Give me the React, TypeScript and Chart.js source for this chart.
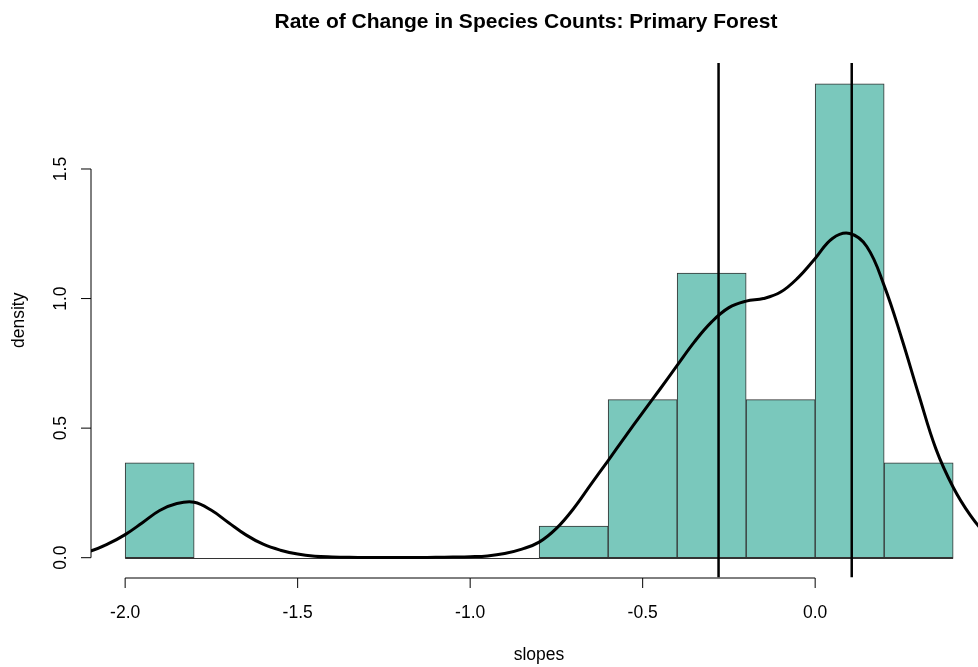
import React, { useEffect, useRef } from "react";
import { Chart, registerables } from "chart.js";

Chart.register(...registerables);

// Histogram bins (bin width 0.2) and density heights
const binCenters = [-1.9, -1.7, -1.5, -1.3, -1.1, -0.9, -0.7, -0.5, -0.3, -0.1, 0.1, 0.3];
const binDensity = [0.366, 0, 0, 0, 0, 0, 0.122, 0.61, 1.098, 0.61, 1.829, 0.366];
const binRange = [-2.0, 0.4];

// Kernel density curve (every 0.05)
const kdeX = [
  -2.15, -2.1, -2.05, -2.0, -1.95, -1.9, -1.85, -1.8, -1.75, -1.7, -1.65, -1.6, -1.55, -1.5,
  -1.45, -1.4, -1.35, -1.3, -1.25, -1.2, -1.15, -1.1, -1.05, -1.0, -0.95, -0.9, -0.85, -0.8,
  -0.75, -0.7, -0.65, -0.6, -0.55, -0.5, -0.45, -0.4, -0.35, -0.3, -0.25, -0.2, -0.15, -0.1,
  -0.05, 0.0, 0.05, 0.1, 0.15, 0.2, 0.25, 0.3, 0.35, 0.4, 0.45, 0.5,
];
const kdeY = [
  0.013, 0.026, 0.053, 0.089, 0.135, 0.182, 0.209, 0.214, 0.183, 0.135, 0.088, 0.052, 0.029, 0.014,
  0.006, 0.003, 0.0015, 0.001, 0.0008, 0.0008, 0.001, 0.0015, 0.0025, 0.004, 0.007, 0.016, 0.033, 0.06,
  0.113, 0.19, 0.283, 0.375, 0.468, 0.56, 0.65, 0.742, 0.833, 0.91, 0.965, 0.99, 1.0, 1.025,
  1.08, 1.155, 1.232, 1.251, 1.2, 1.05, 0.85, 0.63, 0.42, 0.272, 0.163, 0.08,
];

// Vertical reference lines
const refLines = [-0.28, 0.106];

// Axis ticks
const xTicks = [-2.0, -1.5, -1.0, -0.5, 0.0];
const yTicks = [0, 0.5, 1.0, 1.5];

const xLimits = [-2.099, 0.472];
const yLimits = [-0.0764, 1.909];

const titleText = "Rate of Change in Species Counts: Primary Forest";
const xTitle = "slopes";
const yTitle = "density";

const FONT = "'Liberation Sans', Arial, sans-serif";

const rAxesPlugin = {
  id: "rAxes",
  beforeDatasetsDraw(chart: any) {
    const ctx = chart.ctx;
    const x = chart.scales.x;
    const y = chart.scales.y;
    const y0 = y.getPixelForValue(0);
    ctx.save();
    ctx.strokeStyle = "#333";
    ctx.lineWidth = 1;
    ctx.beginPath();
    ctx.moveTo(x.getPixelForValue(binRange[0]), Math.round(y0) + 0.5);
    ctx.lineTo(x.getPixelForValue(binRange[1]), Math.round(y0) + 0.5);
    ctx.stroke();
    ctx.restore();
  },
  afterDraw(chart: any) {
    const ctx = chart.ctx;
    const area = chart.chartArea;
    const x = chart.scales.x;
    const y = chart.scales.y;
    ctx.save();
    ctx.strokeStyle = "#000";
    ctx.fillStyle = "#000";
    ctx.lineWidth = 1;

    // x axis
    const xa = 578;
    const xt = x.ticks.map((t: any) => t.value);
    ctx.beginPath();
    ctx.moveTo(x.getPixelForValue(xt[0]), xa);
    ctx.lineTo(x.getPixelForValue(xt[xt.length - 1]), xa);
    xt.forEach((v: number) => {
      const px = x.getPixelForValue(v);
      ctx.moveTo(px, xa);
      ctx.lineTo(px, xa + 10);
    });
    ctx.stroke();
    ctx.font = `17.5px ${FONT}`;
    ctx.textAlign = "center";
    ctx.textBaseline = "alphabetic";
    xt.forEach((v: number) => {
      ctx.fillText(v.toFixed(1), x.getPixelForValue(v), 618);
    });

    // y axis
    const ya = 91;
    const yt = y.ticks.map((t: any) => t.value);
    ctx.beginPath();
    ctx.moveTo(ya, y.getPixelForValue(yt[0]));
    ctx.lineTo(ya, y.getPixelForValue(yt[yt.length - 1]));
    yt.forEach((v: number) => {
      const py = y.getPixelForValue(v);
      ctx.moveTo(ya, py);
      ctx.lineTo(ya - 10, py);
    });
    ctx.stroke();
    yt.forEach((v: number) => {
      ctx.save();
      ctx.translate(66, y.getPixelForValue(v));
      ctx.rotate(-Math.PI / 2);
      ctx.fillText(v.toFixed(1), 0, 0);
      ctx.restore();
    });

    // axis titles
    ctx.fillText(xTitle, (area.left + 987) / 2, 659.5);
    ctx.save();
    ctx.translate(24, (area.top + area.bottom) / 2);
    ctx.rotate(-Math.PI / 2);
    ctx.fillText(yTitle, 0, 0);
    ctx.restore();

    // main title
    ctx.font = `bold 21px ${FONT}`;
    ctx.fillText(titleText, 526, 28);
    ctx.restore();
  },
};

export default function App() {
  const ref = useRef<HTMLCanvasElement | null>(null);

  useEffect(() => {
    if (!ref.current) return;
    const chart = new Chart(ref.current, {
      type: "bar",
      data: {
        datasets: [
          {
            type: "bar",
            data: binCenters.map((c, i) => ({ x: c, y: binDensity[i] })),
            backgroundColor: "#7AC8BC",
            borderColor: "#333",
            borderWidth: 1,
            borderSkipped: false,
            barPercentage: 1,
            categoryPercentage: 1,
            order: 3,
          } as any,
          {
            type: "line",
            data: kdeX.map((v, i) => ({ x: v, y: kdeY[i] })),
            borderColor: "#000",
            borderWidth: 3,
            pointRadius: 0,
            tension: 0.4,
            fill: false,
            clip: 0,
            order: 2,
          } as any,
          ...refLines.map(
            (v) =>
              ({
                type: "line",
                data: [
                  { x: v, y: yLimits[0] },
                  { x: v, y: yLimits[1] },
                ],
                borderColor: "#000",
                borderWidth: 2.5,
                pointRadius: 0,
                fill: false,
                clip: 0,
                order: 1,
              }) as any
          ),
        ],
      },
      options: {
        responsive: false,
        animation: false,
        layout: { padding: { left: 91, top: 63, right: 0, bottom: 89.5 } },
        plugins: {
          legend: { display: false },
          tooltip: { enabled: false },
          title: { display: false },
        },
        scales: {
          x: {
            type: "linear",
            display: false,
            min: xLimits[0],
            max: xLimits[1],
            offset: false,
            afterBuildTicks: (scale: any) => {
              scale.ticks = xTicks.map((v) => ({ value: v }));
            },
          },
          y: {
            type: "linear",
            display: false,
            min: yLimits[0],
            max: yLimits[1],
            afterBuildTicks: (scale: any) => {
              scale.ticks = yTicks.map((v) => ({ value: v }));
            },
          },
        },
      } as any,
      plugins: [rAxesPlugin],
    });
    return () => chart.destroy();
  }, []);

  return (
    <div style={{ position: "fixed", left: 0, top: 0, width: 978, height: 667, background: "#fff" }}>
      <canvas ref={ref} width={978} height={667} style={{ display: "block" }} />
    </div>
  );
}
